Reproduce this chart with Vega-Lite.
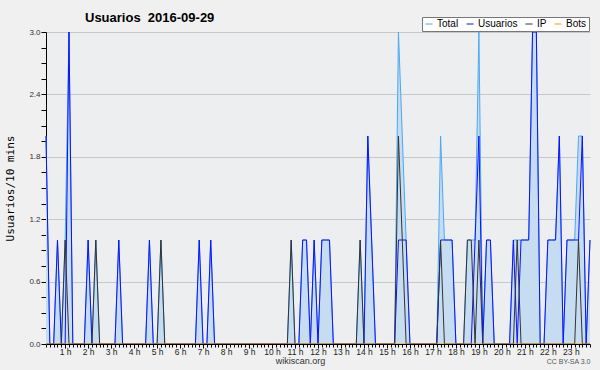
{
  "$schema": "https://vega.github.io/schema/vega-lite/v6.json",
  "width": 544,
  "height": 312,
  "autosize": {"type": "none"},
  "padding": {"left": 46, "top": 32, "right": 10, "bottom": 26},
  "background": "#f0f0f0",
  "view": {"fill": "#eceef0", "stroke": null},
  "title": {
    "text": "Usuarios\u00a0\u00a02016-09-29",
    "anchor": "start",
    "frame": "group",
    "dx": 39,
    "dy": 18,
    "offset": 10,
    "font": "Liberation Sans",
    "fontSize": 13,
    "fontWeight": "bold",
    "color": "#000000"
  },
  "data": {
    "values": [
      {"m":10,"Total":2,"Usuarios":2,"IP":0,"Bots":0},
      {"m":20,"Total":0,"Usuarios":0,"IP":0,"Bots":0},
      {"m":30,"Total":0,"Usuarios":0,"IP":0,"Bots":0},
      {"m":40,"Total":1,"Usuarios":1,"IP":0,"Bots":0},
      {"m":50,"Total":0,"Usuarios":0,"IP":0,"Bots":0},
      {"m":60,"Total":1,"Usuarios":0,"IP":1,"Bots":0},
      {"m":70,"Total":3,"Usuarios":3,"IP":0,"Bots":0},
      {"m":80,"Total":0,"Usuarios":0,"IP":0,"Bots":0},
      {"m":90,"Total":0,"Usuarios":0,"IP":0,"Bots":0},
      {"m":100,"Total":0,"Usuarios":0,"IP":0,"Bots":0},
      {"m":110,"Total":0,"Usuarios":0,"IP":0,"Bots":0},
      {"m":120,"Total":1,"Usuarios":1,"IP":0,"Bots":0},
      {"m":130,"Total":0,"Usuarios":0,"IP":0,"Bots":0},
      {"m":140,"Total":1,"Usuarios":0,"IP":1,"Bots":0},
      {"m":150,"Total":0,"Usuarios":0,"IP":0,"Bots":0},
      {"m":160,"Total":0,"Usuarios":0,"IP":0,"Bots":0},
      {"m":170,"Total":0,"Usuarios":0,"IP":0,"Bots":0},
      {"m":180,"Total":0,"Usuarios":0,"IP":0,"Bots":0},
      {"m":190,"Total":0,"Usuarios":0,"IP":0,"Bots":0},
      {"m":200,"Total":1,"Usuarios":1,"IP":0,"Bots":0},
      {"m":210,"Total":0,"Usuarios":0,"IP":0,"Bots":0},
      {"m":220,"Total":0,"Usuarios":0,"IP":0,"Bots":0},
      {"m":230,"Total":0,"Usuarios":0,"IP":0,"Bots":0},
      {"m":240,"Total":0,"Usuarios":0,"IP":0,"Bots":0},
      {"m":250,"Total":0,"Usuarios":0,"IP":0,"Bots":0},
      {"m":260,"Total":0,"Usuarios":0,"IP":0,"Bots":0},
      {"m":270,"Total":0,"Usuarios":0,"IP":0,"Bots":0},
      {"m":280,"Total":1,"Usuarios":1,"IP":0,"Bots":0},
      {"m":290,"Total":0,"Usuarios":0,"IP":0,"Bots":0},
      {"m":300,"Total":0,"Usuarios":0,"IP":0,"Bots":0},
      {"m":310,"Total":1,"Usuarios":0,"IP":1,"Bots":0},
      {"m":320,"Total":0,"Usuarios":0,"IP":0,"Bots":0},
      {"m":330,"Total":0,"Usuarios":0,"IP":0,"Bots":0},
      {"m":340,"Total":0,"Usuarios":0,"IP":0,"Bots":0},
      {"m":350,"Total":0,"Usuarios":0,"IP":0,"Bots":0},
      {"m":360,"Total":0,"Usuarios":0,"IP":0,"Bots":0},
      {"m":370,"Total":0,"Usuarios":0,"IP":0,"Bots":0},
      {"m":380,"Total":0,"Usuarios":0,"IP":0,"Bots":0},
      {"m":390,"Total":0,"Usuarios":0,"IP":0,"Bots":0},
      {"m":400,"Total":0,"Usuarios":0,"IP":0,"Bots":0},
      {"m":410,"Total":1,"Usuarios":1,"IP":0,"Bots":0},
      {"m":420,"Total":0,"Usuarios":0,"IP":0,"Bots":0},
      {"m":430,"Total":0,"Usuarios":0,"IP":0,"Bots":0},
      {"m":440,"Total":1,"Usuarios":1,"IP":0,"Bots":0},
      {"m":450,"Total":0,"Usuarios":0,"IP":0,"Bots":0},
      {"m":460,"Total":0,"Usuarios":0,"IP":0,"Bots":0},
      {"m":470,"Total":0,"Usuarios":0,"IP":0,"Bots":0},
      {"m":480,"Total":0,"Usuarios":0,"IP":0,"Bots":0},
      {"m":490,"Total":0,"Usuarios":0,"IP":0,"Bots":0},
      {"m":500,"Total":0,"Usuarios":0,"IP":0,"Bots":0},
      {"m":510,"Total":0,"Usuarios":0,"IP":0,"Bots":0},
      {"m":520,"Total":0,"Usuarios":0,"IP":0,"Bots":0},
      {"m":530,"Total":0,"Usuarios":0,"IP":0,"Bots":0},
      {"m":540,"Total":0,"Usuarios":0,"IP":0,"Bots":0},
      {"m":550,"Total":0,"Usuarios":0,"IP":0,"Bots":0},
      {"m":560,"Total":0,"Usuarios":0,"IP":0,"Bots":0},
      {"m":570,"Total":0,"Usuarios":0,"IP":0,"Bots":0},
      {"m":580,"Total":0,"Usuarios":0,"IP":0,"Bots":0},
      {"m":590,"Total":0,"Usuarios":0,"IP":0,"Bots":0},
      {"m":600,"Total":0,"Usuarios":0,"IP":0,"Bots":0},
      {"m":610,"Total":0,"Usuarios":0,"IP":0,"Bots":0},
      {"m":620,"Total":0,"Usuarios":0,"IP":0,"Bots":0},
      {"m":630,"Total":0,"Usuarios":0,"IP":0,"Bots":0},
      {"m":640,"Total":0,"Usuarios":0,"IP":0,"Bots":0},
      {"m":650,"Total":1,"Usuarios":0,"IP":1,"Bots":0},
      {"m":660,"Total":0,"Usuarios":0,"IP":0,"Bots":0},
      {"m":670,"Total":0,"Usuarios":0,"IP":0,"Bots":0},
      {"m":680,"Total":1,"Usuarios":1,"IP":0,"Bots":0},
      {"m":690,"Total":1,"Usuarios":1,"IP":0,"Bots":0},
      {"m":700,"Total":0,"Usuarios":0,"IP":0,"Bots":0},
      {"m":710,"Total":1,"Usuarios":1,"IP":0,"Bots":0},
      {"m":720,"Total":0,"Usuarios":0,"IP":0,"Bots":0},
      {"m":730,"Total":1,"Usuarios":1,"IP":0,"Bots":0},
      {"m":740,"Total":1,"Usuarios":1,"IP":0,"Bots":0},
      {"m":750,"Total":1,"Usuarios":1,"IP":0,"Bots":0},
      {"m":760,"Total":0,"Usuarios":0,"IP":0,"Bots":0},
      {"m":770,"Total":0,"Usuarios":0,"IP":0,"Bots":0},
      {"m":780,"Total":0,"Usuarios":0,"IP":0,"Bots":0},
      {"m":790,"Total":0,"Usuarios":0,"IP":0,"Bots":0},
      {"m":800,"Total":0,"Usuarios":0,"IP":0,"Bots":0},
      {"m":810,"Total":0,"Usuarios":0,"IP":0,"Bots":0},
      {"m":820,"Total":0,"Usuarios":0,"IP":0,"Bots":0},
      {"m":830,"Total":1,"Usuarios":0,"IP":1,"Bots":0},
      {"m":840,"Total":0,"Usuarios":0,"IP":0,"Bots":0},
      {"m":850,"Total":2,"Usuarios":2,"IP":0,"Bots":0},
      {"m":860,"Total":1,"Usuarios":1,"IP":0,"Bots":0},
      {"m":870,"Total":0,"Usuarios":0,"IP":0,"Bots":0},
      {"m":880,"Total":0,"Usuarios":0,"IP":0,"Bots":0},
      {"m":890,"Total":0,"Usuarios":0,"IP":0,"Bots":0},
      {"m":900,"Total":0,"Usuarios":0,"IP":0,"Bots":0},
      {"m":910,"Total":0,"Usuarios":0,"IP":0,"Bots":0},
      {"m":920,"Total":0,"Usuarios":0,"IP":0,"Bots":0},
      {"m":930,"Total":3,"Usuarios":1,"IP":2,"Bots":0},
      {"m":940,"Total":2,"Usuarios":1,"IP":1,"Bots":0},
      {"m":950,"Total":1,"Usuarios":1,"IP":0,"Bots":0},
      {"m":960,"Total":0,"Usuarios":0,"IP":0,"Bots":0},
      {"m":970,"Total":0,"Usuarios":0,"IP":0,"Bots":0},
      {"m":980,"Total":0,"Usuarios":0,"IP":0,"Bots":0},
      {"m":990,"Total":0,"Usuarios":0,"IP":0,"Bots":0},
      {"m":1000,"Total":0,"Usuarios":0,"IP":0,"Bots":0},
      {"m":1010,"Total":0,"Usuarios":0,"IP":0,"Bots":0},
      {"m":1020,"Total":0,"Usuarios":0,"IP":0,"Bots":0},
      {"m":1030,"Total":0,"Usuarios":0,"IP":0,"Bots":0},
      {"m":1040,"Total":2,"Usuarios":1,"IP":1,"Bots":0},
      {"m":1050,"Total":1,"Usuarios":1,"IP":0,"Bots":0},
      {"m":1060,"Total":1,"Usuarios":1,"IP":0,"Bots":0},
      {"m":1070,"Total":1,"Usuarios":1,"IP":0,"Bots":0},
      {"m":1080,"Total":0,"Usuarios":0,"IP":0,"Bots":0},
      {"m":1090,"Total":0,"Usuarios":0,"IP":0,"Bots":0},
      {"m":1100,"Total":0,"Usuarios":0,"IP":0,"Bots":0},
      {"m":1110,"Total":1,"Usuarios":0,"IP":1,"Bots":0},
      {"m":1120,"Total":1,"Usuarios":0,"IP":1,"Bots":0},
      {"m":1130,"Total":1,"Usuarios":1,"IP":0,"Bots":0},
      {"m":1140,"Total":3,"Usuarios":2,"IP":1,"Bots":0},
      {"m":1150,"Total":0,"Usuarios":0,"IP":0,"Bots":0},
      {"m":1160,"Total":1,"Usuarios":1,"IP":0,"Bots":0},
      {"m":1170,"Total":1,"Usuarios":1,"IP":0,"Bots":0},
      {"m":1180,"Total":0,"Usuarios":0,"IP":0,"Bots":0},
      {"m":1190,"Total":0,"Usuarios":0,"IP":0,"Bots":0},
      {"m":1200,"Total":0,"Usuarios":0,"IP":0,"Bots":0},
      {"m":1210,"Total":0,"Usuarios":0,"IP":0,"Bots":0},
      {"m":1220,"Total":0,"Usuarios":0,"IP":0,"Bots":0},
      {"m":1230,"Total":1,"Usuarios":1,"IP":0,"Bots":0},
      {"m":1240,"Total":1,"Usuarios":0,"IP":1,"Bots":0},
      {"m":1250,"Total":1,"Usuarios":1,"IP":0,"Bots":0},
      {"m":1260,"Total":1,"Usuarios":1,"IP":0,"Bots":0},
      {"m":1270,"Total":1,"Usuarios":1,"IP":0,"Bots":0},
      {"m":1280,"Total":3,"Usuarios":3,"IP":0,"Bots":0},
      {"m":1290,"Total":3,"Usuarios":3,"IP":0,"Bots":0},
      {"m":1300,"Total":0,"Usuarios":0,"IP":0,"Bots":0},
      {"m":1310,"Total":0,"Usuarios":0,"IP":0,"Bots":0},
      {"m":1320,"Total":1,"Usuarios":1,"IP":0,"Bots":0},
      {"m":1330,"Total":1,"Usuarios":1,"IP":0,"Bots":0},
      {"m":1340,"Total":1,"Usuarios":1,"IP":0,"Bots":0},
      {"m":1350,"Total":2,"Usuarios":2,"IP":0,"Bots":0},
      {"m":1360,"Total":0,"Usuarios":0,"IP":0,"Bots":0},
      {"m":1370,"Total":1,"Usuarios":1,"IP":0,"Bots":0},
      {"m":1380,"Total":1,"Usuarios":1,"IP":0,"Bots":0},
      {"m":1390,"Total":1,"Usuarios":1,"IP":0,"Bots":0},
      {"m":1400,"Total":2,"Usuarios":1,"IP":1,"Bots":0},
      {"m":1410,"Total":2,"Usuarios":2,"IP":0,"Bots":0},
      {"m":1420,"Total":0,"Usuarios":0,"IP":0,"Bots":0},
      {"m":1430,"Total":1,"Usuarios":1,"IP":0,"Bots":0}
    ]
  },
  "resolve": {"axis": {"x": "independent", "y": "independent"}},
  "layer": [
    {
      "mark": {"type": "area", "color": "#c6dcf0", "opacity": 1},
      "encoding": {
        "x": {
          "field": "m", "type": "quantitative",
          "scale": {"domain": [10, 1430], "nice": false, "zero": false},
          "axis": {
            "orient": "bottom", "zindex": 1,
            "values": [60,120,180,240,300,360,420,480,540,600,660,720,780,840,900,960,1020,1080,1140,1200,1260,1320,1380],
            "labelExpr": "datum.value / 60 + ' h'",
            "labelFont": "Liberation Sans", "labelFontSize": 8.5, "labelColor": "#222222",
            "labelPadding": -1, "labelFlush": false, "labelOverlap": false,
            "tickSize": 4, "tickColor": "#000000", "domainColor": "#000000",
            "grid": false,
            "title": "wikiscan.org", "titleFont": "Liberation Sans", "titleFontSize": 9,
            "titleFontWeight": "normal", "titleColor": "#333333",
            "titleX": 254, "titleY": 19, "titleBaseline": "alphabetic", "titleAlign": "center", "titleAnchor": null
          }
        },
        "y": {
          "field": "Total", "type": "quantitative",
          "scale": {"domain": [0, 3], "nice": false},
          "axis": {
            "orient": "left",
            "values": [0, 0.6, 1.2, 1.8, 2.4, 3.0],
            "format": ".1f",
            "labelFont": "Liberation Sans", "labelFontSize": 8, "labelColor": "#333333",
            "labelPadding": 1,
            "tickSize": 5, "tickColor": "#000000", "domainColor": "#000000",
            "grid": true, "gridColor": "#c8c8c8", "gridWidth": 1,
            "title": "Usuarios/10 mins", "titleFont": "DejaVu Sans Mono", "titleFontSize": 11,
            "titleFontWeight": "normal", "titleColor": "#000000",
            "titleX": -36, "titleY": 156, "titleAlign": "center", "titleBaseline": "middle", "titleAngle": -90
          }
        }
      }
    },
    {
      "transform": [{"fold": ["Total", "Usuarios", "IP", "Bots"], "as": ["serie", "valor"]}],
      "mark": {"type": "line", "strokeWidth": 1},
      "encoding": {
        "x": {
          "field": "m", "type": "quantitative",
          "axis": {
            "orient": "bottom",
            "tickCount": 142, "labels": false, "tickSize": 3, "tickColor": "#000000",
            "domain": false, "grid": false,
            "title": "CC BY-SA 3.0", "titleFont": "Liberation Sans", "titleFontSize": 7,
            "titleFontWeight": "normal", "titleColor": "#555555",
            "titleX": 544, "titleY": 19, "titleAlign": "right", "titleBaseline": "alphabetic", "titleAnchor": null
          }
        },
        "y": {
          "field": "valor", "type": "quantitative",
          "axis": {
            "orient": "left",
            "values": [0.15,0.3,0.45,0.75,0.9,1.05,1.35,1.5,1.65,1.95,2.1,2.25,2.55,2.7,2.85],
            "labels": false, "tickSize": 5, "tickColor": "#000000", "domain": false, "grid": false, "title": null
          }
        },
        "color": {
          "field": "serie", "type": "nominal",
          "scale": {"domain": ["Total", "Usuarios", "IP", "Bots"], "range": ["#4aa8f5", "#1010ff", "#333333", "#ff9900"]},
          "legend": {
            "title": null, "orient": "none", "direction": "horizontal",
            "legendX": 376, "legendY": -15,
            "symbolType": "stroke", "symbolSize": 49, "symbolStrokeWidth": 1,
            "labelFont": "Liberation Sans", "labelFontSize": 10, "labelColor": "#000000",
            "labelOffset": 3, "columnPadding": 5,
            "fillColor": "#ffffff", "strokeColor": "#777777", "padding": 2
          }
        }
      }
    }
  ]
}
